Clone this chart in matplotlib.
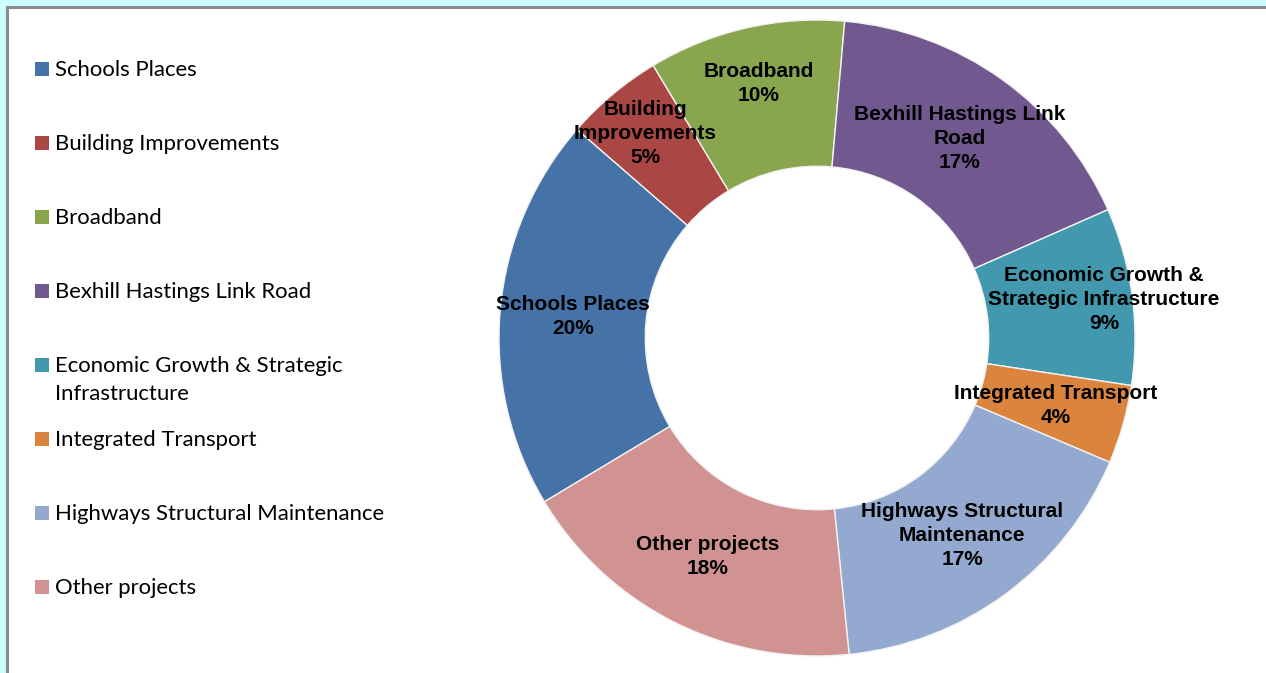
import numpy as np
import matplotlib.pyplot as plt
from matplotlib.patches import Rectangle

# data
categories = ['Schools Places', 'Building Improvements', 'Broadband',
              'Bexhill Hastings Link Road', 'Economic Growth & Strategic Infrastructure',
              'Integrated Transport', 'Highways Structural Maintenance', 'Other projects']
shares = [20, 5, 10, 17, 9, 4, 17, 18]
legend_labels = ['Schools Places', 'Building Improvements', 'Broadband',
                 'Bexhill Hastings Link Road', 'Economic Growth & Strategic\nInfrastructure',
                 'Integrated Transport', 'Highways Structural Maintenance', 'Other projects']
wedge_labels = ['Schools Places', 'Building\nImprovements', 'Broadband',
                'Bexhill Hastings Link\nRoad', 'Economic Growth &\nStrategic Infrastructure',
                'Integrated Transport', 'Highways Structural\nMaintenance', 'Other projects']
colors = ['#4572A7', '#AA4643', '#89A54E', '#71588F', '#4198AF', '#DB843D', '#93A9CF', '#D19392']
label_dist = [0.77, 0.84, 0.82, 0.77, 0.91, 0.78, 0.77, 0.77]

W, H = 1266, 673
fig = plt.figure(figsize=(W / 100, H / 100), dpi=100, facecolor='#CCFFFF')

# background panel + legend, in pixel coords
bg = fig.add_axes([0, 0, 1, 1])
bg.set_xlim(0, W)
bg.set_ylim(H, 0)
bg.axis('off')
bg.add_patch(Rectangle((7, 7), W + 20, H + 20, facecolor='white', edgecolor='#8C8C8C', lw=2.2))

for i, (lab, c) in enumerate(zip(legend_labels, colors)):
    y = 69 + 74 * i
    bg.add_patch(Rectangle((35, y - 7), 14, 14, facecolor=c, edgecolor='none'))
    bg.text(55, y - 9, lab, family='Lato', fontsize=15.9, va='top', ha='left',
            color='black', linespacing=1.5)

# donut
cx, cy, R = 817, 338, 318
half = 330
ax = fig.add_axes([(cx - half) / W, (H - cy - half) / H, 2 * half / W, 2 * half / H])
wedges, _ = ax.pie(shares, colors=colors, startangle=211, counterclock=False,
                   radius=1, wedgeprops=dict(width=0.46, edgecolor='#F2F2F2', linewidth=1.0))
lim = half / R
ax.set_xlim(-lim, lim)
ax.set_ylim(-lim, lim)
ax.set_aspect('equal')
ax.axis('off')

for w, txt, v, d in zip(wedges, wedge_labels, shares, label_dist):
    ang = np.deg2rad((w.theta1 + w.theta2) / 2)
    ax.text(d * np.cos(ang), d * np.sin(ang), f'{txt}\n{v}%', ha='center', va='center',
            family='Liberation Sans', fontweight='bold', fontsize=15, linespacing=1.33)

fig.savefig('out.png', dpi=100, facecolor=fig.get_facecolor())
